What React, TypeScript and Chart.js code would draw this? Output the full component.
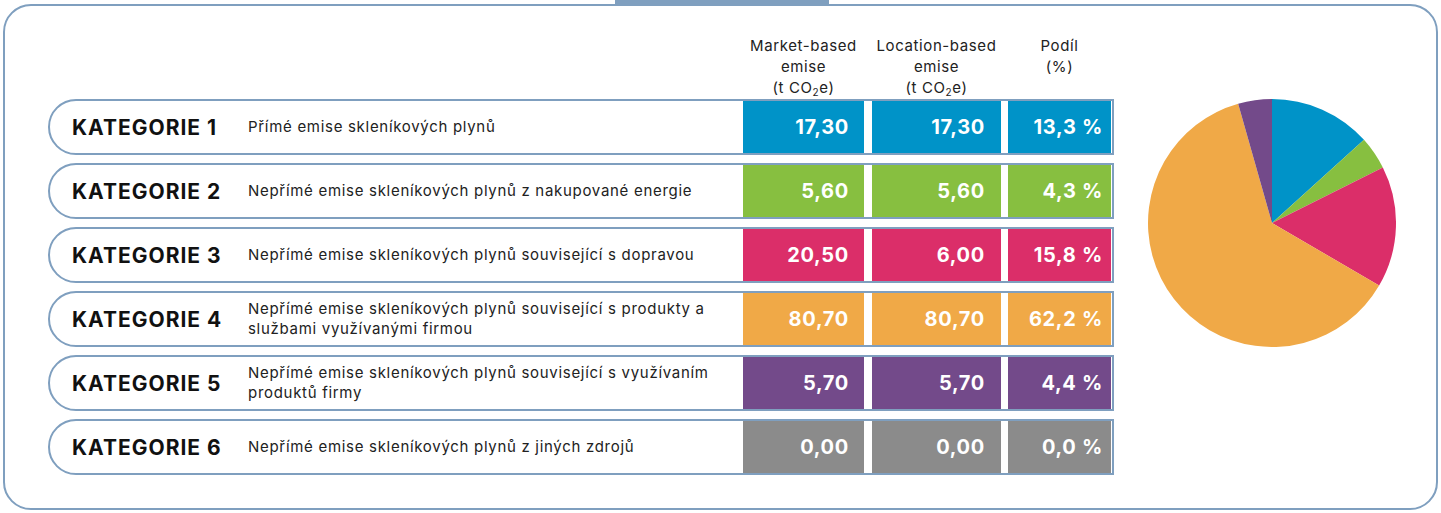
import React, { useEffect, useRef } from "react";
import { Chart, registerables } from "chart.js";

Chart.register(...registerables);

const categories = ["KATEGORIE 1", "KATEGORIE 2", "KATEGORIE 3", "KATEGORIE 4", "KATEGORIE 5", "KATEGORIE 6"];
const descriptions = [
  "Přímé emise skleníkových plynů",
  "Nepřímé emise skleníkových plynů z nakupované energie",
  "Nepřímé emise skleníkových plynů související s dopravou",
  "Nepřímé emise skleníkových plynů související s produkty a službami využívanými firmou",
  "Nepřímé emise skleníkových plynů související s využívaním produktů firmy",
  "Nepřímé emise skleníkových plynů z jiných zdrojů",
];
const marketBased = [17.3, 5.6, 20.5, 80.7, 5.7, 0.0];
const locationBased = [17.3, 5.6, 6.0, 80.7, 5.7, 0.0];
const sharePct = [13.3, 4.3, 15.8, 62.2, 4.4, 0.0];
const colors = ["#0093c8", "#87bf40", "#db2e69", "#f0a947", "#734a8a", "#8b8b8b"];

const FONT = "Inter, 'Open Sans', sans-serif";
const BORDER = "#7f9fbf";

const fmt = (v: number, d: number) => v.toFixed(d).replace(".", ",");

function Pie() {
  const ref = useRef<HTMLCanvasElement | null>(null);
  useEffect(() => {
    if (!ref.current) return;
    const chart = new Chart(ref.current, {
      type: "pie",
      data: {
        labels: categories,
        datasets: [{ data: sharePct, backgroundColor: colors, borderWidth: 0 }],
      },
      options: {
        animation: false,
        responsive: false,
        maintainAspectRatio: false,
        layout: { padding: 0 },
        plugins: { legend: { display: false }, tooltip: { enabled: false } },
      },
    });
    return () => chart.destroy();
  }, []);
  return (
    <canvas
      ref={ref}
      width={248}
      height={248}
      style={{ position: "absolute", left: 1148, top: 99, width: 248, height: 248 }}
    />
  );
}

const headerStyle: React.CSSProperties = {
  position: "absolute",
  top: 35,
  fontSize: 15,
  lineHeight: "21px",
  textAlign: "center",
  color: "#222",
  fontFamily: FONT,
  letterSpacing: 0.6,
};

const sub = <sub style={{ fontSize: 10, verticalAlign: "-3px", lineHeight: 0 }}>2</sub>;

export default function App() {
  const cols = [
    { left: 743, width: 121, pad: 15 },
    { left: 872, width: 129, pad: 16 },
    { left: 1008, width: 103, pad: 8 },
  ];
  return (
    <div
      style={{
        position: "absolute",
        left: 0,
        top: 0,
        width: 1441,
        height: 513,
        background: "#fff",
        fontFamily: FONT,
        overflow: "hidden",
      }}
    >
      <div
        style={{
          position: "absolute",
          left: 3,
          top: 4,
          width: 1435,
          height: 506,
          boxSizing: "border-box",
          border: `2px solid ${BORDER}`,
          borderRadius: 28,
        }}
      />
      <div style={{ position: "absolute", left: 615, top: 0, width: 214, height: 6, background: BORDER }} />

      <div style={{ ...headerStyle, left: 728, width: 151 }}>
        Market-based<br />emise<br />(t CO{sub}e)
      </div>
      <div style={{ ...headerStyle, left: 856, width: 161 }}>
        Location-based<br />emise<br />(t CO{sub}e)
      </div>
      <div style={{ ...headerStyle, left: 1008, width: 103 }}>
        Podíl<br />(%)
      </div>

      {categories.map((cat, i) => {
        const top = 99 + i * 64;
        const vals = [fmt(marketBased[i], 2), fmt(locationBased[i], 2), fmt(sharePct[i], 1) + " %"];
        return (
          <React.Fragment key={cat}>
            <div
              style={{
                position: "absolute",
                left: 48,
                top,
                width: 1066,
                height: 56,
                boxSizing: "border-box",
                border: `2px solid ${BORDER}`,
                borderRadius: "28px 0 0 28px",
              }}
            />
            <div
              style={{
                position: "absolute",
                left: 72,
                top,
                height: 56,
                display: "flex",
                alignItems: "center",
                fontSize: 21,
                fontWeight: 700,
                color: "#111",
                letterSpacing: 1.0,
              }}
            >
              {cat}
            </div>
            <div
              style={{
                position: "absolute",
                left: 248,
                top,
                width: 474,
                height: 56,
                display: "flex",
                alignItems: "center",
                fontSize: 15,
                lineHeight: "20px",
                color: "#222",
                letterSpacing: 0.7,
              }}
            >
              {descriptions[i]}
            </div>
            {cols.map((c, j) => (
              <div
                key={j}
                style={{
                  position: "absolute",
                  left: c.left,
                  top: top + 2,
                  width: c.width,
                  height: 52,
                  background: colors[i],
                  color: "#fff",
                  fontWeight: 700,
                  fontSize: 20,
                  letterSpacing: 0.7,
                  display: "flex",
                  alignItems: "center",
                  justifyContent: "flex-end",
                  paddingRight: c.pad,
                  boxSizing: "border-box",
                }}
              >
                {vals[j]}
              </div>
            ))}
          </React.Fragment>
        );
      })}
      <Pie />
    </div>
  );
}
